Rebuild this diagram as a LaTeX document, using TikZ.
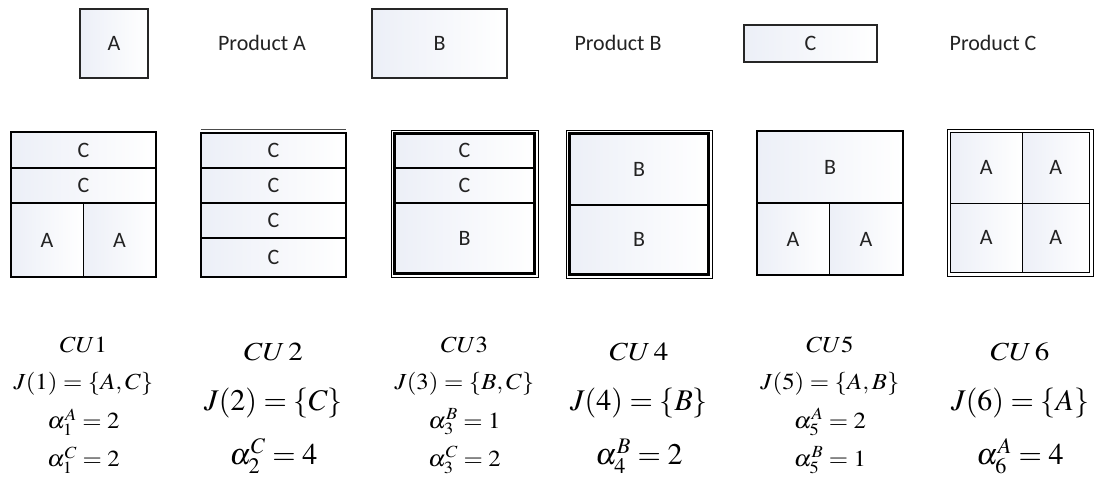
\documentclass[tikz,border=0pt]{standalone}
\usepackage{mathptmx}
\usepackage[no-math]{fontspec}
\newfontfamily\calib{Carlito}
\definecolor{cellgray}{RGB}{236,239,247}
\definecolor{ink}{RGB}{35,35,35}
\tikzset{
  cell/.style={inner sep=0pt, outer sep=0pt, left color=cellgray, right color=white,
    text=ink, font=\calib\fontsize{22}{24}\selectfont},
  heavy/.style={line width=2.6pt, line cap=rect},
  thinline/.style={line width=0.9pt},
  medline/.style={line width=1.8pt},
  topframe/.style={draw=black!85, line width=1.8pt},
  prodlabel/.style={text=ink, font=\calib\fontsize{22}{24}\selectfont},
  smallf/.style={font=\fontsize{23}{25}\selectfont, inner sep=0pt},
  bigf/.style={font=\fontsize{30}{32}\selectfont, inner sep=0pt}
}
\newcommand\mycell[6]{\node[cell, minimum width={(#4-#2)*1pt}, minimum height={(#5-#3)*1pt}] (#1) at ({(#2+#4)/2},{(#3+#5)/2}) {#6};}
\newcommand\sm[1]{\scalebox{1.08}[1]{$#1$}}
\newcommand\cu[1]{\scalebox{1.12}[1]{\fontsize{26}{28}\selectfont$CU\,#1$}}
\begin{document}
\begin{tikzpicture}[x=1pt,y=-1pt]
\useasboundingbox (0,0) rectangle (1094,478);

% top row
\mycell{boxA}{80}{9}{148}{78}{A}
\draw[topframe] (boxA.north west) rectangle (boxA.south east);
\node[prodlabel] (prodA) at (262,43) {Product A};
\mycell{boxB}{372}{9}{507}{78}{B}
\draw[topframe] (boxB.north west) rectangle (boxB.south east);
\node[prodlabel] (prodB) at (618,43) {Product B};
\mycell{boxC}{744}{25}{877}{62}{C}
\draw[topframe] (boxC.north west) rectangle (boxC.south east);
\node[prodlabel] (prodC) at (993,43) {Product C};

% CU1
\mycell{u1c1}{11}{132}{156}{168}{C}
\mycell{u1c2}{11}{168}{156}{203}{C}
\mycell{u1a1}{11}{203}{83}{277}{A}
\mycell{u1a2}{83}{203}{156}{277}{A}
\draw[thinline] (u1a1.north east) -- (u1a1.south east);
\draw[heavy] (u1c1.south west) -- (u1c1.south east);
\draw[heavy] (u1c2.south west) -- (u1c2.south east);
\draw[heavy] (u1c1.north west) rectangle (u1a2.south east);

% CU2
\mycell{u2c1}{201}{133}{346}{168}{C}
\mycell{u2c2}{201}{168}{346}{203}{C}
\mycell{u2c3}{201}{203}{346}{238}{C}
\mycell{u2c4}{201}{238}{346}{277}{C}
\draw[heavy] (u2c1.south west) -- (u2c1.south east);
\draw[heavy] (u2c2.south west) -- (u2c2.south east);
\draw[heavy] (u2c3.south west) -- (u2c3.south east);
\draw[heavy] (u2c1.north west) rectangle (u2c4.south east);
\draw[thinline, black!70] ([yshift=3.5pt]u2c1.north west) -- ([yshift=3.5pt]u2c1.north east);

% CU3
\mycell{u3c1}{394.5}{133.5}{534.5}{168}{C}
\mycell{u3c2}{394.5}{168}{534.5}{203}{C}
\mycell{u3b}{394.5}{203}{534.5}{273.5}{B}
\draw[heavy] (u3c1.south west) -- (u3c1.south east);
\draw[heavy] (u3c2.south west) -- (u3c2.south east);
\draw[heavy] (u3c1.north west) rectangle (u3b.south east);
\draw[thinline] ([shift={(-3.5pt,3.5pt)}]u3c1.north west) rectangle ([shift={(3.5pt,-3.5pt)}]u3b.south east);

% CU4
\mycell{u4b1}{569.5}{133.5}{708.5}{205}{B}
\mycell{u4b2}{569.5}{205}{708.5}{274.5}{B}
\draw[heavy] (u4b1.south west) -- (u4b1.south east);
\draw[heavy] (u4b1.north west) rectangle (u4b2.south east);
\draw[thinline] ([shift={(-3.5pt,3.5pt)}]u4b1.north west) rectangle ([shift={(3.5pt,-3.5pt)}]u4b2.south east);

% CU5
\mycell{u5b}{757}{131}{903}{203}{B}
\mycell{u5a1}{757}{203}{829}{275}{A}
\mycell{u5a2}{829}{203}{903}{275}{A}
\draw[thinline] (u5a1.north east) -- (u5a1.south east);
\draw[heavy] (u5b.south west) -- (u5b.south east);
\draw[heavy] (u5b.north west) rectangle (u5a2.south east);

% CU6
\mycell{u6a1}{950.5}{132.5}{1022}{203}{A}
\mycell{u6a2}{1022}{132.5}{1089.5}{203}{A}
\mycell{u6a3}{950.5}{203}{1022}{272.5}{A}
\mycell{u6a4}{1022}{203}{1089.5}{272.5}{A}
\draw[thinline] (u6a1.north east) -- (u6a3.south east);
\draw[thinline] (u6a1.south west) -- (u6a2.south east);
\draw[medline] (u6a1.north west) rectangle (u6a4.south east);
\draw[thinline] ([shift={(-3.5pt,3.5pt)}]u6a1.north west) rectangle ([shift={(3.5pt,-3.5pt)}]u6a4.south east);

% formulas
\node[smallf] (f1a) at (83.5,345) {\sm{CU1}};
\node[smallf] (f1b) at (83.5,384) {\sm{J(1)=\{A,C\}}};
\node[smallf] (f1c) at (83.5,422) {\sm{\alpha_1^A=2}};
\node[smallf] (f1d) at (83.5,460) {\sm{\alpha_1^C=2}};

\node[inner sep=0pt] (f2a) at (273.5,352) {\cu{2}};
\node[bigf] (f2b) at (273.5,403) {$J(2)=\{C\}$};
\node[bigf] (f2c) at (273.5,456) {$\alpha_2^C=4$};

\node[smallf] (f3a) at (464.5,345) {\sm{CU3}};
\node[smallf] (f3b) at (464.5,384) {\sm{J(3)=\{B,C\}}};
\node[smallf] (f3c) at (464.5,422) {\sm{\alpha_3^B=1}};
\node[smallf] (f3d) at (464.5,460) {\sm{\alpha_3^C=2}};

\node[inner sep=0pt] (f4a) at (639,352) {\cu{4}};
\node[bigf] (f4b) at (639,403) {$J(4)=\{B\}$};
\node[bigf] (f4c) at (639,456) {$\alpha_4^B=2$};

\node[smallf] (f5a) at (830,345) {\sm{CU5}};
\node[smallf] (f5b) at (830,384) {\sm{J(5)=\{A,B\}}};
\node[smallf] (f5c) at (830,422) {\sm{\alpha_5^A=2}};
\node[smallf] (f5d) at (830,460) {\sm{\alpha_5^B=1}};

\node[inner sep=0pt] (f6a) at (1020,352) {\cu{6}};
\node[bigf] (f6b) at (1020,403) {$J(6)=\{A\}$};
\node[bigf] (f6c) at (1020,456) {$\alpha_6^A=4$};
\end{tikzpicture}
\end{document}
